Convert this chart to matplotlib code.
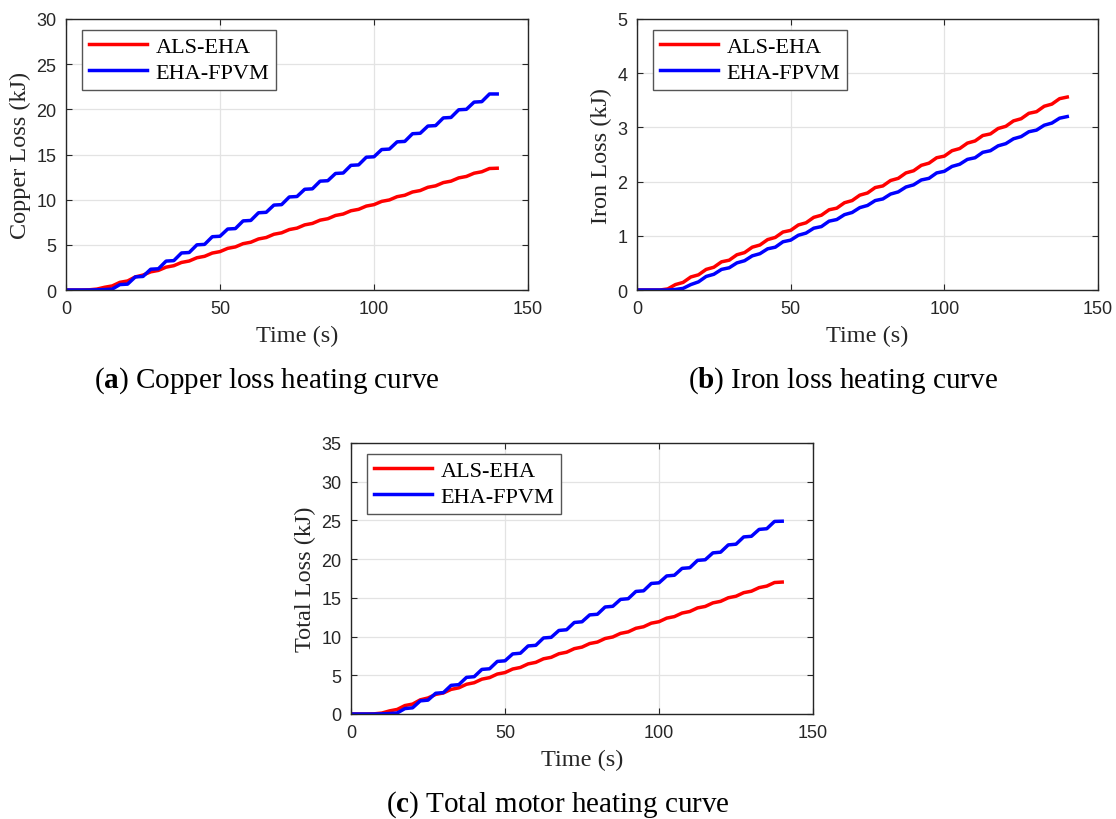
import numpy as np
import matplotlib.pyplot as plt

plt.rcParams["mathtext.fontset"] = "custom"
plt.rcParams["mathtext.rm"] = "Liberation Serif"
plt.rcParams["mathtext.bf"] = "Liberation Serif:bold"

# sample times (s), every 2.5 s
time_s = np.arange(0, 142.5, 2.5)

# (a) copper loss, kJ
copper_als = [0, 0, 0, 0.02, 0.1, 0.3, 0.45, 0.85, 1.0, 1.45,
              1.65, 2.01, 2.17, 2.53, 2.69, 3.05, 3.21, 3.57, 3.73, 4.09,
              4.25, 4.61, 4.77, 5.13, 5.29, 5.65, 5.81, 6.17, 6.33, 6.69,
              6.85, 7.21, 7.37, 7.73, 7.89, 8.25, 8.41, 8.77, 8.93, 9.29,
              9.45, 9.81, 9.97, 10.33, 10.49, 10.85, 11.01, 11.37, 11.53, 11.89,
              12.05, 12.41, 12.57, 12.93, 13.09, 13.45, 13.48]
copper_fpvm = [0, 0, 0, 0, 0.02, 0.05, 0.1, 0.6, 0.65, 1.45,
               1.5, 2.3, 2.35, 3.2, 3.25, 4.1, 4.15, 5.0, 5.05, 5.9,
               5.95, 6.75, 6.8, 7.65, 7.7, 8.55, 8.6, 9.4, 9.45, 10.3,
               10.35, 11.15, 11.2, 12.05, 12.1, 12.9, 12.95, 13.8, 13.85, 14.7,
               14.75, 15.55, 15.6, 16.4, 16.45, 17.3, 17.35, 18.15, 18.2, 19.05,
               19.1, 19.95, 20.0, 20.8, 20.85, 21.7, 21.7]

# (b) iron loss, kJ
iron_als = [0, 0, 0, 0, 0.02, 0.1, 0.14, 0.24, 0.28, 0.38,
            0.42, 0.52, 0.55, 0.65, 0.69, 0.79, 0.83, 0.93, 0.97, 1.07,
            1.1, 1.2, 1.24, 1.34, 1.38, 1.48, 1.51, 1.61, 1.65, 1.75,
            1.79, 1.89, 1.92, 2.02, 2.06, 2.16, 2.2, 2.3, 2.34, 2.44,
            2.47, 2.57, 2.61, 2.71, 2.75, 2.85, 2.88, 2.98, 3.02, 3.12,
            3.16, 3.26, 3.29, 3.39, 3.43, 3.53, 3.56]
iron_fpvm = [0, 0, 0, 0, 0, 0.01, 0.03, 0.1, 0.15, 0.25,
             0.29, 0.38, 0.41, 0.5, 0.54, 0.63, 0.67, 0.76, 0.79, 0.89,
             0.92, 1.01, 1.05, 1.14, 1.17, 1.27, 1.3, 1.39, 1.43, 1.52,
             1.56, 1.65, 1.68, 1.77, 1.81, 1.9, 1.94, 2.03, 2.06, 2.16,
             2.19, 2.28, 2.32, 2.41, 2.44, 2.54, 2.57, 2.66, 2.7, 2.79,
             2.83, 2.92, 2.95, 3.04, 3.08, 3.17, 3.2]

# (c) total loss, kJ
total_als = [0, 0, 0, 0.02, 0.12, 0.4, 0.59, 1.09, 1.28, 1.83,
             2.07, 2.53, 2.72, 3.18, 3.38, 3.84, 4.04, 4.5, 4.7, 5.16,
             5.35, 5.81, 6.01, 6.47, 6.67, 7.13, 7.32, 7.78, 7.98, 8.44,
             8.64, 9.1, 9.29, 9.75, 9.95, 10.41, 10.61, 11.07, 11.27, 11.73,
             11.92, 12.38, 12.58, 13.04, 13.24, 13.7, 13.89, 14.35, 14.55, 15.01,
             15.21, 15.67, 15.86, 16.32, 16.52, 16.98, 17.04]
total_fpvm = [0, 0, 0, 0, 0.02, 0.06, 0.13, 0.7, 0.8, 1.7,
              1.79, 2.68, 2.76, 3.7, 3.79, 4.73, 4.82, 5.76, 5.84, 6.79,
              6.87, 7.76, 7.85, 8.79, 8.87, 9.82, 9.9, 10.79, 10.88, 11.82,
              11.91, 12.8, 12.88, 13.82, 13.91, 14.8, 14.89, 15.83, 15.91, 16.86,
              16.94, 17.83, 17.92, 18.81, 18.89, 19.84, 19.92, 20.81, 20.9, 21.84,
              21.93, 22.87, 22.95, 23.84, 23.93, 24.87, 24.9]

labels = ["ALS-EHA", "EHA-FPVM"]
serif = "Liberation Serif"
sans = "Liberation Sans"

fig = plt.figure(figsize=(11.16, 8.2), dpi=100)

panels = [
    ([66, 20, 528, 291], copper_als, copper_fpvm, "Copper Loss (kJ)", 30, 5),
    ([637, 20, 1098, 291], iron_als, iron_fpvm, "Iron Loss (kJ)", 5, 1),
    ([351, 444, 813, 715], total_als, total_fpvm, "Total Loss (kJ)", 35, 5),
]

for (x0, y0, x1, y1), als, fpvm, ylab, ymax, ystep in panels:
    ax = fig.add_axes([x0 / 1116, 1 - y1 / 820, (x1 - x0) / 1116, (y1 - y0) / 820])
    ax.plot(time_s, als, color="#ff0000", lw=2.5, label=labels[0], solid_joinstyle="round")
    ax.plot(time_s, fpvm, color="#0000ff", lw=2.5, label=labels[1], solid_joinstyle="round")
    ax.set_xlim(0, 150)
    ax.set_ylim(0, ymax)
    ax.set_xticks([0, 50, 100, 150])
    ax.set_yticks(np.arange(0, ymax + ystep / 2, ystep))
    ax.grid(True, color="#e3e3e3", lw=0.9)
    ax.set_axisbelow(True)
    ax.tick_params(direction="in", top=True, right=True, length=4, width=0.8,
                   labelsize=13, colors="#262626", pad=7)
    for t in ax.get_xticklabels() + ax.get_yticklabels():
        t.set_fontfamily(sans)
    for s in ax.spines.values():
        s.set_linewidth(1.0)
        s.set_color("#262626")
    ax.set_xlabel("Time (s)", fontfamily=serif, fontsize=17.5, color="#262626", labelpad=6)
    ax.set_ylabel(ylab, fontfamily=serif, fontsize=17.5, color="#262626", labelpad=4)
    leg = ax.legend(loc="upper left", bbox_to_anchor=(0.035, 0.96), prop={"family": serif, "size": 16},
                    fancybox=False, framealpha=1, edgecolor="#555555", handlelength=2.6,
                    borderaxespad=0, labelspacing=0.25, handletextpad=0.4, borderpad=0.3)
    leg.get_frame().set_linewidth(1.0)

captions = [(267, 381, "a", "Copper loss heating curve"),
            (843, 381, "b", "Iron loss heating curve"),
            (558, 805, "c", "Total motor heating curve")]
for cx, cy, letter, text in captions:
    fig.text(cx / 1116, 1 - cy / 820,
             r"($\mathbf{" + letter + r"}$) " + text,
             ha="center", va="center", fontfamily=serif, fontsize=21)

fig.savefig("out.png", dpi=100)
